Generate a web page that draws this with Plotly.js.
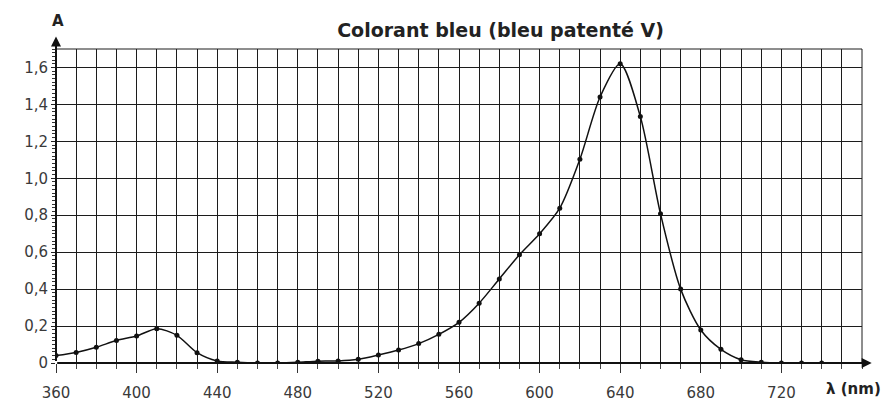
<!DOCTYPE html>
<html>
<head>
<meta charset="utf-8">
<script src="https://cdn.plot.ly/plotly-3.0.1.min.js"></script>
<style>html,body{margin:0;padding:0;background:#fff;}#chart{width:886px;height:403px;}</style>
</head>
<body>
<div id="chart"></div>
<script>
const wavelengths = [360,370,380,390,400,410,420,430,440,450,460,470,480,490,500,510,520,530,540,550,560,570,580,590,600,610,620,630,640,650,660,670,680,690,700,710,720,730,740];
const absorbance = [0.04,0.057,0.085,0.122,0.146,0.186,0.15,0.056,0.011,0.004,0.0,0.0,0.004,0.01,0.011,0.02,0.043,0.07,0.105,0.155,0.22,0.324,0.455,0.586,0.70,0.838,1.103,1.44,1.62,1.334,0.808,0.40,0.179,0.074,0.018,0.004,0,0,0];
const xTickVals = [360,400,440,480,520,560,600,640,680,720];
const xTickText = ["360","400","440","480","520","560","600","640","680","720"];
const yTickVals = [0,0.2,0.4,0.6,0.8,1.0,1.2,1.4,1.6];
const yTickText = ["0","0,2","0,4","0,6","0,8","1,0","1,2","1,4","1,6"];
const titleText = "Colorant bleu (bleu patenté V)";
const xLabel = "λ (nm)";
const yLabel = "A";

const gridCol = "#1c1c1c";
const fam = "DejaVu Sans, Arial, sans-serif";
const font = {family: fam, size: 15, color: "#3a3a3a"};

const trace = {
  x: wavelengths, y: absorbance, type: "scatter", mode: "lines+markers",
  line: {color: "#111", width: 1.5, shape: "spline", smoothing: 0.8},
  marker: {color: "#111", size: 5},
  hoverinfo: "skip", showlegend: false
};

const layout = {
  width: 886, height: 403,
  margin: {l: 56, r: 24, t: 49, b: 40},
  paper_bgcolor: "#fff", plot_bgcolor: "#fff",
  font: font,
  title: {text: "<b>" + titleText + "</b>", x: 0.565, xanchor: "center", y: 0.925, yanchor: "middle",
          font: {family: fam, size: 19, color: "#222"}},
  xaxis: {
    range: [360, 760], tickmode: "array", tickvals: xTickVals, ticktext: xTickText,
    showgrid: true, gridcolor: gridCol, gridwidth: 1,
    ticks: "outside", ticklen: 9, tickcolor: "#333", tickwidth: 1, ticklabelstandoff: 7,
    minor: {dtick: 10, tick0: 360, showgrid: true, gridcolor: gridCol, gridwidth: 1, ticks: "outside", ticklen: 5, tickcolor: "#444"},
    showline: false, zeroline: false, fixedrange: true,
    tickfont: font
  },
  yaxis: {
    range: [0, 1.7], tickmode: "array", tickvals: yTickVals, ticktext: yTickText,
    showgrid: true, gridcolor: gridCol, gridwidth: 1,
    ticks: "outside", ticklen: 4, tickcolor: "#222", tickwidth: 1,
    minor: {dtick: 0.02, tick0: 0, showgrid: false, ticks: "outside", ticklen: 3, tickcolor: "#333"},
    showline: false, zeroline: false, fixedrange: true,
    tickfont: font
  },
  shapes: [
    {type: "line", xref: "paper", yref: "paper", x0: 0, x1: 1, y0: 1, y1: 1, line: {color: gridCol, width: 1}},
    {type: "line", xref: "paper", yref: "paper", x0: 1, x1: 1, y0: 0, y1: 1, line: {color: gridCol, width: 1}}
  ],
  annotations: [
    {xref: "paper", yref: "paper", x: 1.012, y: 0, ax: -816, ay: 0, axref: "pixel", ayref: "pixel",
     showarrow: true, arrowhead: 2, arrowsize: 1, arrowwidth: 2, arrowcolor: "#111", text: ""},
    {xref: "paper", yref: "paper", x: 0, y: 1.04, ax: 0, ay: 326, axref: "pixel", ayref: "pixel",
     showarrow: true, arrowhead: 2, arrowsize: 1, arrowwidth: 2, arrowcolor: "#111", text: ""},
    {xref: "paper", yref: "paper", x: 0.002, y: 1.09, xanchor: "center", yanchor: "middle", showarrow: false,
     text: "<b>" + yLabel + "</b>", font: {family: fam, size: 15, color: "#222"}},
    {xref: "paper", yref: "paper", x: 0.989, y: -0.083, xanchor: "center", yanchor: "middle", showarrow: false,
     text: "<b>" + xLabel + "</b>", font: {family: fam, size: 15, color: "#222"}}
  ]
};

Plotly.newPlot("chart", [trace], layout, {displayModeBar: false, staticPlot: true});
</script>
</body>
</html>
